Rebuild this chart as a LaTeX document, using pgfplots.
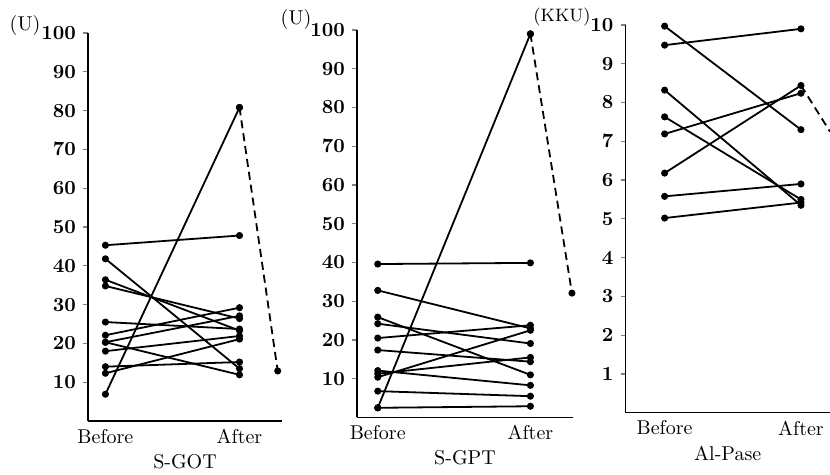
\documentclass[border=0pt]{standalone}
\usepackage{pgfplots}
\pgfplotsset{compat=1.18}

% one panel = before/after pairs, only left and bottom axis lines
\pgfplotsset{
  panel/.style={
    scale only axis,
    anchor=south west,
    axis x line*=bottom,
    axis y line*=left,
    axis line style={line width=0.75pt},
    ymin=0,
    xtick={0,1},
    xticklabels={Before,After},
    x tick style={draw=none},
    tick align=outside,
    major tick length=2.5pt,
    y tick style={line width=0.6pt},
    yticklabel style={font=\normalsize\boldmath},
    xticklabel style={font=\normalsize, yshift=2pt},
    xlabel style={font=\normalsize, yshift=1.5pt},
    clip=false,
    cycle list={black,solid,mark=*\\},
    every axis plot/.append style={black, line width=0.9pt, mark size=1.3pt, mark options={solid}},
  },
  drop/.style={dash pattern=on 4pt off 2.5pt},
}

\begin{document}
\begin{tikzpicture}
\useasboundingbox (0,0) rectangle (415pt,237.5pt);

% S-GOT
\begin{axis}[panel, at={(44pt,27pt)}, width=97pt, height=194pt,
    xmin=-0.13, xmax=1.317, ymax=100, ytick={10,20,...,100}, xlabel={S-GOT}]
\addplot coordinates {(0,45.3) (1,47.8)};
\addplot coordinates {(0,6.9) (1,80.8)};
\addplot[drop, mark=*] coordinates {(1,80.8) (1.285,12.9)};
\addplot coordinates {(0,41.8) (1,13.5)};
\addplot coordinates {(0,36.4) (1,23.3)};
\addplot coordinates {(0,34.8) (1,26.4)};
\addplot coordinates {(0,25.5) (1,23.7)};
\addplot coordinates {(0,22.1) (1,29.2)};
\addplot coordinates {(0,20.3) (1,27.1)};
\addplot coordinates {(0,20.3) (1,11.9)};
\addplot coordinates {(0,18.0) (1,21.9)};
\addplot coordinates {(0,14.0) (1,15.2)};
\addplot coordinates {(0,12.3) (1,21.1)};
\end{axis}

% S-GPT
\begin{axis}[panel, at={(178.5pt,28.75pt)}, width=108pt, height=193.75pt,
    xmin=-0.136, xmax=1.279, ymax=100, ytick={10,20,...,100}, xlabel={S-GPT}]
\addplot coordinates {(0,39.6) (1,39.9)};
\addplot coordinates {(0,2.5) (1,99.0)};
\addplot[drop, mark=*] coordinates {(1,99.0) (1.272,32.1)};
\addplot coordinates {(0,2.5) (1,2.9)};
\addplot coordinates {(0,6.8) (1,5.5)};
\addplot coordinates {(0,32.8) (1,23.0)};
\addplot coordinates {(0,25.9) (1,11.0)};
\addplot coordinates {(0,24.2) (1,19.1)};
\addplot coordinates {(0,20.5) (1,23.8)};
\addplot coordinates {(0,17.4) (1,14.4)};
\addplot coordinates {(0,10.4) (1,22.5)};
\addplot coordinates {(0,11.3) (1,15.5)};
\addplot coordinates {(0,12.1) (1,8.3)};
\end{axis}

% Al-Pase
\begin{axis}[panel, at={(312.75pt,31.15pt)}, width=102.25pt, height=193.85pt,
    xmin=-0.287, xmax=1.213, ymax=10, ytick={1,2,...,10}, xlabel={Al-Pase}]
\addplot coordinates {(0,9.48) (1,9.90)};
\addplot coordinates {(0,9.97) (1,7.30)};
\addplot coordinates {(0,8.32) (1,5.35)};
\addplot coordinates {(0,7.63) (1,5.50)};
\addplot coordinates {(0,7.19) (1,8.24)};
\addplot coordinates {(0,6.18) (1,8.44)};
\addplot[drop] coordinates {(1,8.44) (1.213,7.25)};
\addplot coordinates {(0,5.58) (1,5.90)};
\addplot coordinates {(0,5.02) (1,5.42)};
\end{axis}

\node at (12.5pt,224.5pt) {(U)};
\node at (148pt,227.5pt) {(U)};
\node[font=\small] at (281pt,229pt) {(KKU)};
\end{tikzpicture}
\end{document}
